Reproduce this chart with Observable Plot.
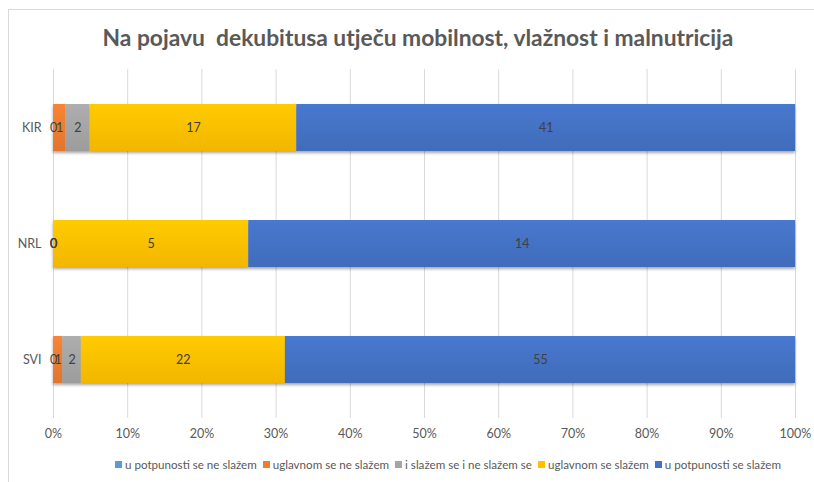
<!DOCTYPE html>
<html>
<head>
<meta charset="utf-8">
<script src="https://cdn.jsdelivr.net/npm/d3@7"></script>
<script src="https://cdn.jsdelivr.net/npm/@observablehq/plot@0.6"></script>
<style>
  html, body { margin: 0; padding: 0; background: #fff; }
  #wrap { position: relative; width: 814px; height: 482px; overflow: hidden; font-family: Lato, "Noto Sans", sans-serif; }
  #frame { position: absolute; left: 8px; top: 9px; width: 820px; height: 500px; border-top: 1.5px solid #d9d9d9; border-left: 1.5px solid #d9d9d9; box-sizing: border-box; }
  #title { position: absolute; left: 0; top: 23px; width: 836px; text-align: center; font-weight: bold; font-size: 22.8px; color: #595959; white-space: pre; line-height: 28px; }
  #chart { position: absolute; left: 0; top: 60px; }
  #legend { position: absolute; left: 0; top: 457px; width: 896px; display: flex; justify-content: center; gap: 6px; font-size: 11.6px; color: #595959; line-height: 16px; }
  #legend span.sw { display: inline-block; width: 7px; height: 7px; margin-right: 3px; vertical-align: 1px; }
  #chart svg .bars { filter: drop-shadow(0 2px 1.5px rgba(0,0,0,0.35)); }
</style>
</head>
<body>
<div id="wrap">
  <div id="frame"></div>
  <div id="title"></div>
  <div id="chart"></div>
  <div id="legend"></div>
</div>
<script>
const titleText = "Na pojavu  dekubitusa utječu mobilnost, vlažnost i malnutricija";
const categories = ["KIR", "NRL", "SVI"];
const series = ["u potpunosti se ne slažem", "uglavnom se ne slažem", "i slažem se i ne slažem se", "uglavnom se slažem", "u potpunosti se slažem"];
const colors = ["#5B9BD5", "#ED7D31", "#A5A5A5", "#FFC000", "#4472C4"];
const valuesKIR = [0, 1, 2, 17, 41];
const valuesNRL = [0, 0, 0, 5, 14];
const valuesSVI = [0, 1, 2, 22, 55];
const xTicks = [0, 0.1, 0.2, 0.3, 0.4, 0.5, 0.6, 0.7, 0.8, 0.9, 1];

const valuesByCat = {KIR: valuesKIR, NRL: valuesNRL, SVI: valuesSVI};
const data = [];
for (const c of categories) {
  series.forEach((s, i) => data.push({cat: c, series: s, value: valuesByCat[c][i]}));
}

document.getElementById("title").textContent = titleText;

const gradIds = colors.map((c, i) => "grad" + i);

const chart = Plot.plot({
  width: 814,
  height: 390,
  marginTop: 9,
  marginBottom: 32,
  marginLeft: 53,
  marginRight: 19,
  style: {fontFamily: "Lato, 'Noto Sans', sans-serif", fontSize: "12.5px", color: "#595959", background: "transparent"},
  x: {domain: [0, 1], ticks: xTicks, tickFormat: d3.format(".0%"), label: null, tickSize: 0, tickPadding: 11},
  y: {domain: categories, label: null, tickSize: 0, tickPadding: 12, paddingInner: 0.595, paddingOuter: 0.2975},
  color: {domain: series, range: gradIds.map(id => `url(#${id})`)},
  marks: [
    Plot.gridX(xTicks, {stroke: "#d9d9d9", strokeOpacity: 1, strokeWidth: 1}),
    Plot.barX(data, Plot.stackX({x: "value", y: "cat", fill: "series", offset: "normalize", className: "bars"})),
    Plot.textX(data, Plot.stackX({x: "value", y: "cat", z: "series", text: d => String(d.value), offset: "normalize", fill: "#404040", fontSize: 12.5}))
  ]
});

// gradient defs for Excel-like bar shading
const ns = "http://www.w3.org/2000/svg";
const defs = document.createElementNS(ns, "defs");
colors.forEach((c, i) => {
  const g = document.createElementNS(ns, "linearGradient");
  g.setAttribute("id", gradIds[i]);
  g.setAttribute("x1", "0"); g.setAttribute("y1", "0");
  g.setAttribute("x2", "0"); g.setAttribute("y2", "1");
  const top = d3.color(c).brighter(0.15).formatHex();
  const bot = d3.color(c).darker(0.15).formatHex();
  [[0, top], [1, bot]].forEach(([o, col]) => {
    const st = document.createElementNS(ns, "stop");
    st.setAttribute("offset", o);
    st.setAttribute("stop-color", col);
    g.appendChild(st);
  });
  defs.appendChild(g);
});
chart.insertBefore(defs, chart.firstChild);
document.getElementById("chart").appendChild(chart);

// legend
const legend = document.getElementById("legend");
series.forEach((s, i) => {
  const item = document.createElement("div");
  const sw = document.createElement("span");
  sw.className = "sw";
  sw.style.background = colors[i];
  item.appendChild(sw);
  item.appendChild(document.createTextNode(s));
  legend.appendChild(item);
});
</script>
</body>
</html>
